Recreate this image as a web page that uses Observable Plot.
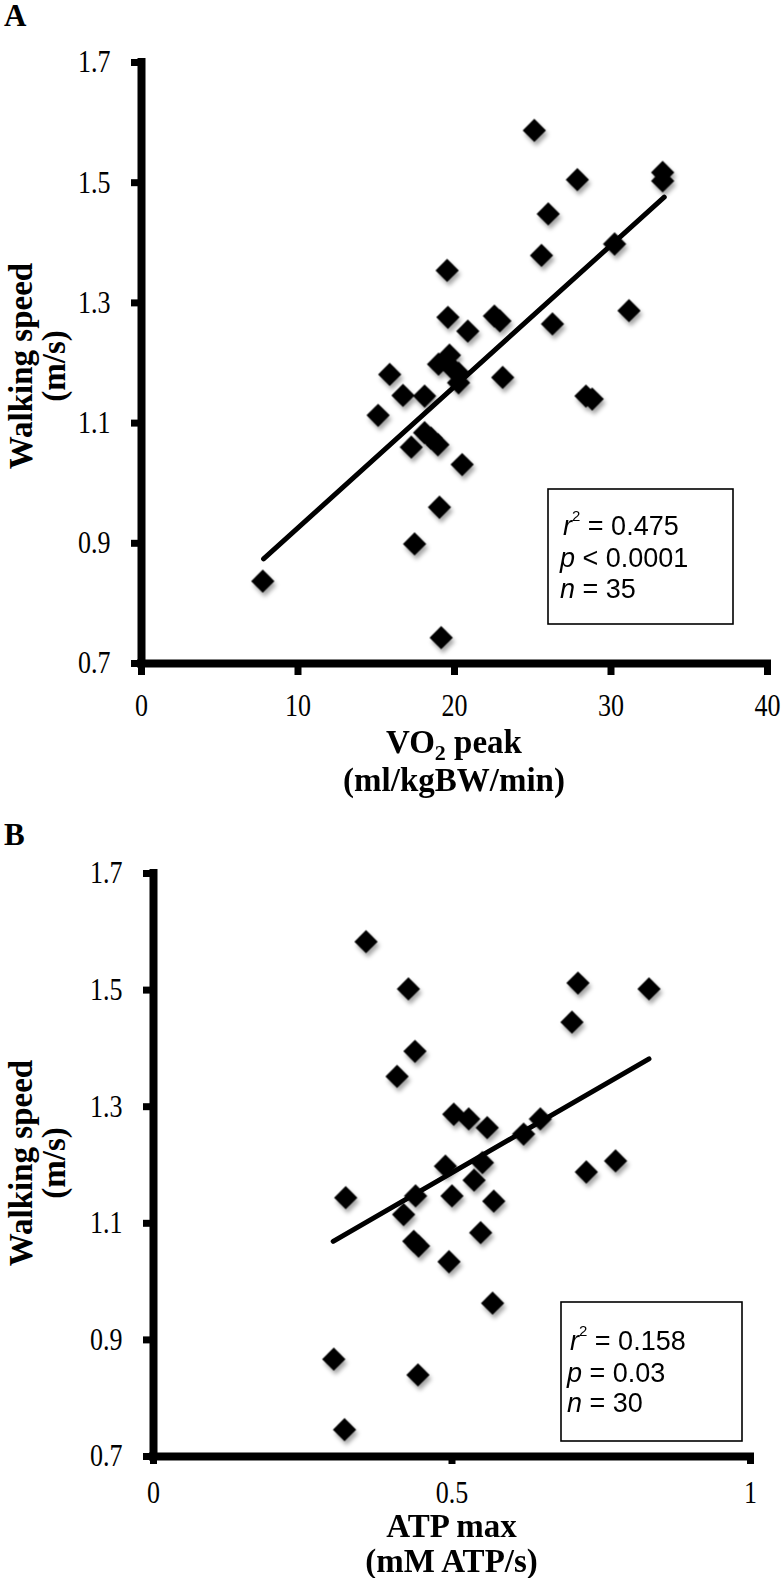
<!DOCTYPE html>
<html><head><meta charset="utf-8">
<script src="https://cdn.jsdelivr.net/npm/d3@7"></script>
<script src="https://cdn.jsdelivr.net/npm/@observablehq/plot@0.6"></script>
<style>
html,body{margin:0;padding:0;background:#fff;}
svg{display:block;}
</style></head><body>
<div id="chart"></div>
<script>
// ---------- Panel A: VO2 peak vs walking speed ----------
const vo2Peak = [7.75,19.15,17.45,19.04,20.49,17.24,18.09,18.94,15.12,16.71,18.09,15.86,23.08,18.98,19.68,20.26,20.26,19.9,19.58,20.85,22.55,22.9,25.1,27.85,33.3,33.3,25.99,25.56,30.23,19.53,31.15,26.26,28.4,28.8,18.5];
const speedA  = [0.837,0.743,0.899,0.96,1.031,1.06,1.084,1.064,1.113,1.146,1.145,1.181,1.176,1.198,1.213,1.183,1.167,1.19,1.276,1.253,1.278,1.27,1.587,1.505,1.517,1.503,1.448,1.379,1.398,1.354,1.287,1.265,1.145,1.14,1.075];
const trendAx = [7.8, 33.4];
const trendAy = [0.874, 1.476];
const xTicksA = [0, 10, 20, 30, 40];
const statsA = ["= 0.475", "< 0.0001", "= 35"];

// ---------- Panel B: ATP max vs walking speed ----------
const atpMax = [0.356,0.427,0.711,0.830,0.701,0.438,0.408,0.503,0.528,0.559,0.648,0.620,0.489,0.551,0.537,0.725,0.774,0.322,0.439,0.500,0.570,0.419,0.436,0.444,0.548,0.495,0.568,0.302,0.443,0.320];
const speedB = [1.583,1.502,1.512,1.502,1.445,1.395,1.352,1.287,1.279,1.264,1.279,1.253,1.198,1.204,1.174,1.188,1.207,1.144,1.147,1.147,1.138,1.115,1.069,1.061,1.084,1.034,0.963,0.867,0.840,0.746];
const trendBx = [0.301, 0.830];
const trendBy = [1.069, 1.382];
const xTicksB = [0, 0.5, 1];
const statsB = ["= 0.158", "= 0.03", "= 30"];

// shared
const yTicks = [0.7, 0.9, 1.1, 1.3, 1.5, 1.7];
const yLabel = ["Walking speed", "(m/s)"];

const SERIF = "'Liberation Serif','Times New Roman',serif";
const SANS = "'Liberation Sans',Arial,sans-serif";

function panel(cfg) {
  const pts = cfg.x.map((x, i) => ({x, y: cfg.y[i]}));
  const trend = cfg.tx.map((x, i) => ({x, y: cfg.ty[i]}));
  const svg = Plot.plot({
    width: 784, height: cfg.height,
    marginTop: cfg.mt, marginBottom: cfg.mb, marginLeft: cfg.ml, marginRight: cfg.mr,
    style: {fontFamily: SERIF, fontSize: "31px", color: "black", background: "white", overflow: "visible"},
    x: {domain: cfg.xDomain},
    y: {domain: [0.7, 1.7]},
    marks: [
      Plot.axisY({ticks: yTicks, tickSize: 10, tickPadding: 21, strokeWidth: 7, tickFormat: d3.format(".1f"), label: null}),
      Plot.axisX({ticks: cfg.xTicks, tickSize: cfg.xTickSize, tickPadding: cfg.xTickPad, strokeWidth: 7, tickFormat: d => String(d), label: null}),
      Plot.ruleX([cfg.xDomain[0]], {strokeWidth: 8, strokeLinecap: "square"}),
      Plot.ruleY([0.7], {strokeWidth: 8, strokeLinecap: "square"}),
      Plot.line(trend, {x: "x", y: "y", strokeWidth: 5, strokeLinecap: "round"}),
      Plot.dot(pts, {x: "x", y: "y", symbol: "diamond2", r: 10.5, fill: "black", stroke: "none"})
    ]
  });
  const s = d3.select(svg);
  s.attr("text-anchor", null);
  // tick labels: serif, slightly condensed like the reference
  s.selectAll('g[aria-label$="tick label"]').attr("font-size", 31).attr("font-family", SERIF);
  s.selectAll('g[aria-label$="tick label"] text').each(function() {
    const t = this.getAttribute("transform") || "";
    this.setAttribute("transform", t + " scale(0.84,1)");
  });
  s.selectAll('g[aria-label="y-axis tick label"]').attr("text-anchor", "end");
  s.selectAll('g[aria-label="x-axis tick label"]').attr("text-anchor", "middle");

  const fid = "shadow" + cfg.letter;
  const f = s.append("defs").append("filter").attr("id", fid)
    .attr("x", "-50%").attr("y", "-50%").attr("width", "200%").attr("height", "200%");
  f.append("feDropShadow").attr("dx", 2).attr("dy", 4).attr("stdDeviation", 2.2)
    .attr("flood-color", "#000").attr("flood-opacity", 0.35);
  s.selectAll('g[aria-label="dot"]').attr("filter", `url(#${fid})`);

  // panel letter
  s.append("text").attr("x", 4).attr("y", cfg.letterY).attr("text-anchor", "start")
    .attr("font-family", SERIF).attr("font-weight", "bold").attr("font-size", 31)
    .attr("fill", "black").text(cfg.letter);

  // y title
  const yc = cfg.yTitleC;
  [[yLabel[0], 32], [yLabel[1], 65]].forEach(([t, x]) => {
    s.append("text").attr("transform", `translate(${x},${yc}) rotate(-90)`)
      .attr("text-anchor", "middle").attr("font-family", SERIF).attr("font-weight", "bold")
      .attr("font-size", 33).attr("fill", "black").text(t);
  });

  // x title
  const xc = (cfg.ml + 784 - cfg.mr) / 2;
  const t1 = s.append("text").attr("x", xc).attr("y", cfg.xTitleY[0]).attr("text-anchor", "middle")
    .attr("font-family", SERIF).attr("font-weight", "bold").attr("font-size", 33).attr("fill", "black");
  cfg.xTitle1(t1);
  s.append("text").attr("x", xc).attr("y", cfg.xTitleY[1]).attr("text-anchor", "middle")
    .attr("font-family", SERIF).attr("font-weight", "bold").attr("font-size", 33).attr("fill", "black")
    .text(cfg.xTitle2);

  // stats box
  const b = cfg.box;
  s.append("rect").attr("x", b.x).attr("y", b.y).attr("width", b.w).attr("height", b.h)
    .attr("fill", "white").attr("stroke", "black").attr("stroke-width", 1.6);
  const g = s.append("g").attr("font-family", SANS).attr("font-size", 27)
    .attr("fill", "black").attr("text-anchor", "start");
  const l1 = g.append("text").attr("x", b.tx + 3).attr("y", b.base[0]);
  l1.append("tspan").attr("font-style", "italic").text("r");
  l1.append("tspan").attr("font-size", 15).attr("dy", -14).text("2");
  l1.append("tspan").attr("dy", 14).text(" " + cfg.stats[0]);
  const l2 = g.append("text").attr("x", b.tx).attr("y", b.base[1]);
  l2.append("tspan").attr("font-style", "italic").text("p");
  l2.append("tspan").text(" " + cfg.stats[1]);
  const l3 = g.append("text").attr("x", b.tx).attr("y", b.base[2]);
  l3.append("tspan").attr("font-style", "italic").text("n");
  l3.append("tspan").text(" " + cfg.stats[2]);
  return svg;
}

const root = document.getElementById("chart");
root.appendChild(panel({
  letter: "A", letterY: 26, height: 800, mt: 62, mb: 137, ml: 141, mr: 17,
  x: vo2Peak, y: speedA, tx: trendAx, ty: trendAy, xDomain: [0, 40], xTicks: xTicksA,
  xTickSize: 12, xTickPad: 18, yTitleC: 366,
  xTitle1: t => { t.append("tspan").text("VO"); t.append("tspan").attr("font-size", 22).attr("dy", 7).text("2"); t.append("tspan").attr("dy", -7).text(" peak"); },
  xTitle2: "(ml/kgBW/min)", xTitleY: [753, 791],
  box: {x: 548, y: 489, w: 185, h: 135, tx: 560, base: [535, 567, 598]}, stats: statsA
}));
root.appendChild(panel({
  letter: "B", letterY: 45, height: 778, mt: 73, mb: 122, ml: 153, mr: 34,
  x: atpMax, y: speedB, tx: trendBx, ty: trendBy, xDomain: [0, 1], xTicks: xTicksB,
  xTickSize: 8, xTickPad: 16, yTitleC: 363,
  xTitle1: t => t.text("ATP max"),
  xTitle2: "(mM ATP/s)", xTitleY: [737, 772],
  box: {x: 561, y: 502, w: 181, h: 139, tx: 567, base: [550, 582, 612]}, stats: statsB
}));
</script>
</body></html>
